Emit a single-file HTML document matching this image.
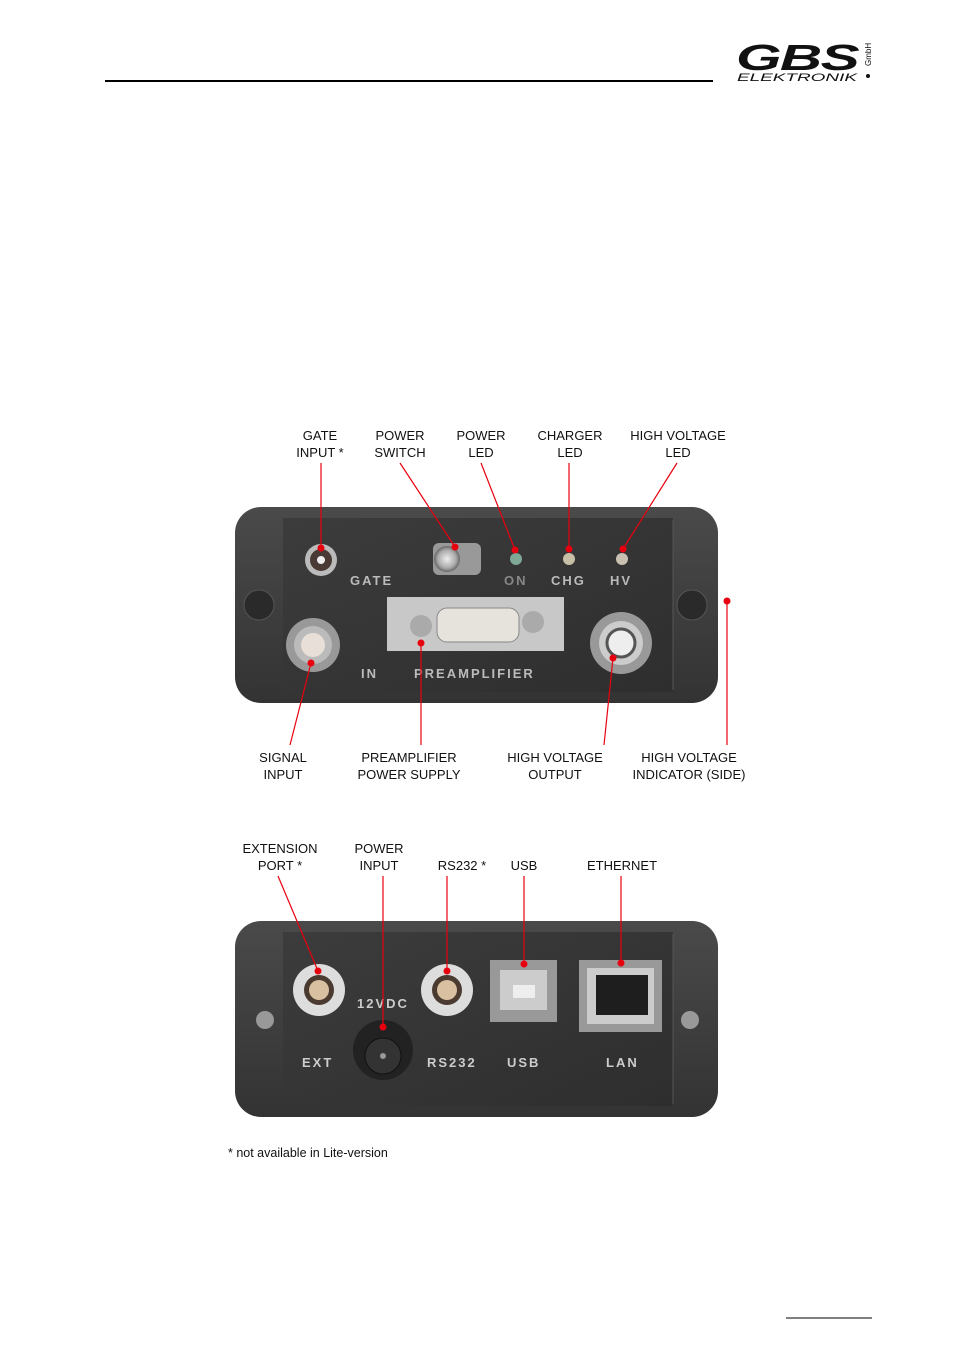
<!DOCTYPE html>
<html><head><meta charset="utf-8"><style>
body{margin:0;background:#fff;}
svg{display:block;font-family:"Liberation Sans",sans-serif;}
</style></head><body>
<svg width="954" height="1350" viewBox="0 0 954 1350" xmlns="http://www.w3.org/2000/svg">
<defs>
<linearGradient id="bd" x1="0" y1="0" x2="0" y2="1"><stop offset="0" stop-color="#4a4a4a"/><stop offset="1" stop-color="#333"/></linearGradient>
<linearGradient id="pn" x1="0" y1="0" x2="1" y2="1"><stop offset="0" stop-color="#3c3c3c"/><stop offset="1" stop-color="#2e2e2e"/></linearGradient>
<radialGradient id="met"><stop offset="0" stop-color="#eee"/><stop offset="0.7" stop-color="#aaa"/><stop offset="1" stop-color="#666"/></radialGradient>
</defs>
<line x1="105" y1="81" x2="713" y2="81" stroke="#000" stroke-width="2"/>
<text x="736" y="70" font-size="36" font-weight="bold" font-style="italic" fill="#111" letter-spacing="-1" textLength="122" lengthAdjust="spacingAndGlyphs">GBS</text>
<text x="737" y="81" font-size="11" font-style="italic" fill="#111" textLength="120" lengthAdjust="spacingAndGlyphs">ELEKTRONIK</text>
<text transform="translate(871,66) rotate(-90)" font-size="8" fill="#111">GmbH</text>
<circle cx="868" cy="76" r="2" fill="#111"/>
<line x1="786" y1="1318" x2="872" y2="1318" stroke="#000" stroke-width="1"/>

<g font-size="13" fill="#111" text-anchor="middle">
<text x="320" y="440">GATE</text><text x="320" y="457">INPUT *</text>
<text x="400" y="440">POWER</text><text x="400" y="457">SWITCH</text>
<text x="481" y="440">POWER</text><text x="481" y="457">LED</text>
<text x="570" y="440">CHARGER</text><text x="570" y="457">LED</text>
<text x="678" y="440">HIGH VOLTAGE</text><text x="678" y="457">LED</text>
<text x="283" y="762">SIGNAL</text><text x="283" y="779">INPUT</text>
<text x="409" y="762">PREAMPLIFIER</text><text x="409" y="779">POWER SUPPLY</text>
<text x="555" y="762">HIGH VOLTAGE</text><text x="555" y="779">OUTPUT</text>
<text x="689" y="762">HIGH VOLTAGE</text><text x="689" y="779">INDICATOR (SIDE)</text>
<text x="280" y="853">EXTENSION</text><text x="280" y="870">PORT *</text>
<text x="379" y="853">POWER</text><text x="379" y="870">INPUT</text>
<text x="462" y="870">RS232 *</text>
<text x="524" y="870">USB</text>
<text x="622" y="870">ETHERNET</text>
</g>
<text x="228" y="1157" font-size="12.5" fill="#111">* not available in Lite-version</text>

<!-- top device -->
<rect x="235" y="507" width="483" height="196" rx="26" fill="url(#bd)"/>
<rect x="283" y="518" width="390" height="174" fill="url(#pn)"/>
<line x1="673" y1="520" x2="673" y2="690" stroke="#555"/>
<circle cx="259" cy="605" r="15" fill="#2a2a2a" stroke="#555"/>
<circle cx="692" cy="605" r="15" fill="#2a2a2a" stroke="#555"/>
<circle cx="321" cy="560" r="16" fill="#bbb"/><circle cx="321" cy="560" r="11" fill="#4a3a35"/><circle cx="321" cy="560" r="4" fill="#eee"/>
<rect x="433" y="543" width="48" height="32" rx="6" fill="#999"/><circle cx="447" cy="559" r="13" fill="url(#met)"/>
<circle cx="516" cy="559" r="6" fill="#7fa896"/><circle cx="569" cy="559" r="6" fill="#c8bfa8"/><circle cx="622" cy="559" r="6" fill="#c8c0b0"/>
<g font-size="13" font-weight="bold" fill="#bbb" letter-spacing="2">
<text x="350" y="585">GATE</text><text x="504" y="585" fill="#888">ON</text><text x="551" y="585">CHG</text><text x="610" y="585">HV</text>
<text x="361" y="678">IN</text><text x="414" y="678">PREAMPLIFIER</text></g>
<rect x="387" y="597" width="177" height="54" fill="#c8c8c8"/>
<rect x="437" y="608" width="82" height="34" rx="10" fill="#e6e2dc" stroke="#888"/>
<circle cx="421" cy="626" r="11" fill="#aaa"/><circle cx="533" cy="622" r="11" fill="#aaa"/>
<circle cx="313" cy="645" r="27" fill="#999"/><circle cx="313" cy="645" r="19" fill="#bbb"/><circle cx="313" cy="645" r="12" fill="#e8e0d8"/>
<circle cx="621" cy="643" r="31" fill="#999"/><circle cx="621" cy="643" r="22" fill="#ccc"/><circle cx="621" cy="643" r="14" fill="#eee" stroke="#555" stroke-width="3"/>

<!-- bottom device -->
<rect x="235" y="921" width="483" height="196" rx="26" fill="url(#bd)"/>
<rect x="283" y="932" width="390" height="174" fill="url(#pn)"/>
<line x1="673" y1="934" x2="673" y2="1104" stroke="#555"/>
<circle cx="265" cy="1020" r="9" fill="#999"/><circle cx="690" cy="1020" r="9" fill="#999"/>
<circle cx="319" cy="990" r="26" fill="#ddd"/><circle cx="319" cy="990" r="15" fill="#4a3a30"/><circle cx="319" cy="990" r="10" fill="#d8c0a0"/>
<circle cx="447" cy="990" r="26" fill="#ddd"/><circle cx="447" cy="990" r="15" fill="#4a3a30"/><circle cx="447" cy="990" r="10" fill="#d8c0a0"/>
<circle cx="383" cy="1050" r="30" fill="#222"/><circle cx="383" cy="1056" r="18" fill="#333" stroke="#111"/><circle cx="383" cy="1056" r="3" fill="#999"/>
<rect x="490" y="960" width="67" height="62" fill="#999"/><rect x="500" y="970" width="47" height="40" fill="#ccc"/><rect x="513" y="985" width="22" height="13" fill="#eee"/>
<rect x="579" y="960" width="83" height="72" fill="#999"/><rect x="587" y="968" width="67" height="56" fill="#ccc"/><rect x="596" y="975" width="52" height="40" fill="#1e1e1e"/>
<g font-size="13" font-weight="bold" fill="#ccc" letter-spacing="2">
<text x="357" y="1008">12VDC</text><text x="302" y="1067">EXT</text><text x="427" y="1067">RS232</text><text x="507" y="1067">USB</text><text x="606" y="1067">LAN</text></g>

<!-- leaders -->
<g stroke="#e8000e" stroke-width="1.2" fill="none">
<line x1="321" y1="463" x2="321" y2="548"/><line x1="400" y1="463" x2="455" y2="547"/><line x1="481" y1="463" x2="515" y2="550"/>
<line x1="569" y1="463" x2="569" y2="549"/><line x1="677" y1="463" x2="623" y2="549"/><line x1="727" y1="601" x2="727" y2="745"/>
<line x1="290" y1="745" x2="311" y2="663"/><line x1="421" y1="745" x2="421" y2="643"/><line x1="604" y1="745" x2="613" y2="658"/>
<line x1="278" y1="876" x2="318" y2="971"/><line x1="383" y1="876" x2="383" y2="1027"/><line x1="447" y1="876" x2="447" y2="971"/>
<line x1="524" y1="876" x2="524" y2="964"/><line x1="621" y1="876" x2="621" y2="963"/></g>
<g fill="#e8000e">
<circle cx="321" cy="548" r="3.5"/><circle cx="455" cy="547" r="3.5"/><circle cx="515" cy="550" r="3.5"/><circle cx="569" cy="549" r="3.5"/><circle cx="623" cy="549" r="3.5"/><circle cx="727" cy="601" r="3.5"/>
<circle cx="311" cy="663" r="3.5"/><circle cx="421" cy="643" r="3.5"/><circle cx="613" cy="658" r="3.5"/>
<circle cx="318" cy="971" r="3.5"/><circle cx="383" cy="1027" r="3.5"/><circle cx="447" cy="971" r="3.5"/><circle cx="524" cy="964" r="3.5"/><circle cx="621" cy="963" r="3.5"/></g>
</svg>
</body></html>
